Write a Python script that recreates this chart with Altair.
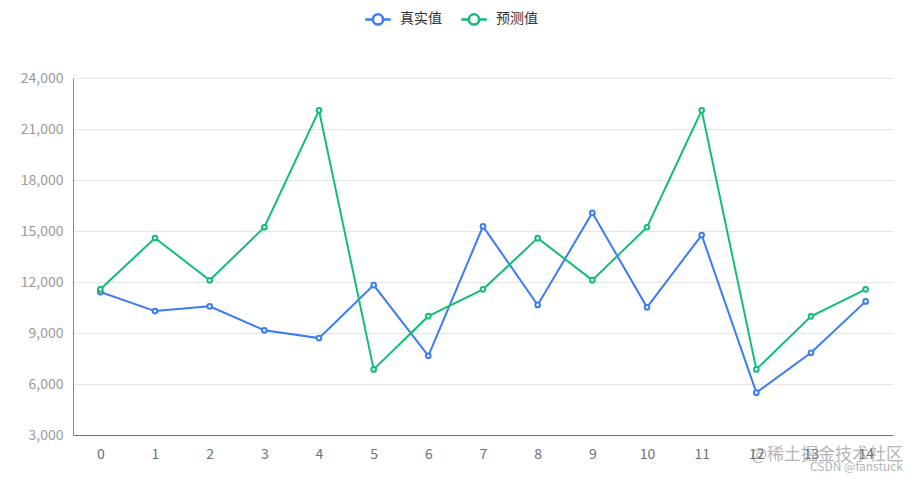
import altair as alt
import pandas as pd

idx = list(range(15))
actual = [11410, 10290, 10570, 9160, 8700, 11820, 7660, 15270, 10650, 16070, 10510, 14760, 5490, 7840, 10860]
predicted = [11570, 14590, 12100, 15220, 22100, 6860, 9990, 11570, 14580, 12110, 15220, 22100, 6860, 9980, 11570]
series_names = ["真实值", "预测值"]
colors = ["#3b7cf4", "#12bd78"]
y_ticks = [3000, 6000, 9000, 12000, 15000, 18000, 21000, 24000]

rows = []
for i, a, p in zip(idx, actual, predicted):
    rows.append({"idx": i, "series": series_names[0], "value": a})
    rows.append({"idx": i, "series": series_names[1], "value": p})
df = pd.DataFrame(rows)

FONT = "Noto Sans CJK SC"

x_enc = alt.X("idx:O", scale=alt.Scale(type="point", padding=0.5),
              axis=alt.Axis(title=None, labelAngle=0, ticks=False, domainColor="#6e7079",
                            domainWidth=1, labelColor="#6e7079", labelFontSize=14,
                            labelPadding=12, grid=False, labelFont=FONT))
y_enc = alt.Y("value:Q", scale=alt.Scale(domain=[3000, 24000], nice=False, zero=False),
              axis=alt.Axis(title=None, values=y_ticks, format=",d", ticks=False,
                            domainColor="#8a8a8a", labelColor="#9a9a9a", labelFontSize=14,
                            labelPadding=10, gridColor="#e6e6e6", labelFont=FONT))
color_scale = alt.Scale(domain=series_names, range=colors)

legend_symbol = "M-1,0L-0.4,0M0.4,0L1,0M0.4,0A0.4,0.4,0,1,1,-0.4,0A0.4,0.4,0,1,1,0.4,0Z"

lines = alt.Chart(df).mark_line(strokeWidth=2).encode(
    x=x_enc, y=y_enc,
    color=alt.Color("series:N", scale=color_scale, sort=series_names,
                    legend=alt.Legend(title=None, orient="none", direction="horizontal",
                                      legendX=291, legendY=-73, symbolType=legend_symbol,
                                      symbolSize=650, symbolStrokeWidth=2.5,
                                      symbolFillColor="white", labelFontSize=14,
                                      labelColor="#333333", labelFont=FONT,
                                      columnPadding=14, symbolOffset=0, labelOffset=8,
                                      padding=0))
)
points = alt.Chart(df).mark_point(shape="circle", filled=True, fill="white", size=22, strokeWidth=2, opacity=1).encode(
    x=x_enc, y=y_enc,
    stroke=alt.Color("series:N", scale=color_scale, legend=None),
)

wm = pd.DataFrame({"t": ["@稀土掘金技术社区"], "t2": ["CSDN @fanstuck"]})
wm1 = alt.Chart(wm).mark_text(align="right", baseline="middle", fontSize=17, color="#777777",
                              opacity=0.55, font=FONT).encode(
    text="t:N", x=alt.value(830), y=alt.value(377))
wm2 = alt.Chart(wm).mark_text(align="right", baseline="middle", fontSize=12, color="#777777",
                              opacity=0.55, font=FONT).encode(
    text="t2:N", x=alt.value(830), y=alt.value(389))

chart = alt.layer(lines, points, wm1, wm2).properties(
    width=820, height=357,
    autosize=alt.AutoSizeParams(type="none"),
    padding={"left": 65, "top": 70, "right": 19, "bottom": 41},
).configure(font=FONT).configure_view(stroke=None)

chart.save("out.html", embed_options={"renderer": "svg", "actions": False})
